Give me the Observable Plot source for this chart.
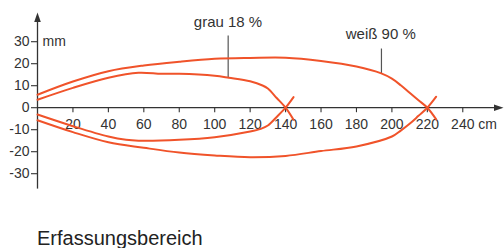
<!DOCTYPE html>
<html><head><meta charset="utf-8">
<script src="https://cdn.jsdelivr.net/npm/d3@7"></script>
<script src="https://cdn.jsdelivr.net/npm/@observablehq/plot@0.6"></script>
<style>
body{margin:0;background:#fff;}
#chart svg{display:block;}
#cap{font-family:"Liberation Sans",Arial,Helvetica,sans-serif;font-size:20px;line-height:20px;color:#222;margin-top:13px;padding-left:37px;}
</style></head><body>
<div id="chart"></div>
<div id="cap">Erfassungsbereich</div>
<script>
// ---- data (cm along the axis, mm off-axis) ----
const weissUpperX = [0,20,40,60,80,100,120,140,160,180,194,200,205,210,215,220,225];
const weissUpperY = [5.9,11.9,16.6,19.2,20.9,22.2,22.6,22.7,21.2,18.7,15.6,13.2,10.2,6.8,3.4,0,-5.3];
const weissLowerX = [0,20,40,60,80,100,120,140,160,180,200,205,210,215,220,225];
const weissLowerY = [-5.7,-11.1,-15.7,-18.2,-20.4,-21.7,-22.5,-21.9,-19.7,-17.6,-13.1,-10.4,-7.3,-3.7,0,5];
const grauUpperX = [0,20,40,57,70,80,100,108,120,127,130,135,140,144.5];
const grauUpperY = [3.6,9.0,13.6,15.9,15.4,15.4,14.5,13.6,12.0,10.1,8.7,4.4,0,-5.5];
const grauLowerX = [0,20,40,50,57,80,100,120,126,130,135,140,144.5];
const grauLowerY = [-3.1,-8.4,-13.1,-14.6,-15.0,-14.6,-13.4,-10.8,-9.6,-8.1,-4.2,0,4.8];

const xTicks = [20,40,60,80,100,120,140,160,180,200,220,240];
const yTicks = [-30,-20,-10,0,10,20,30];
const xUnit = "cm", yUnit = "mm";
const labels = [
  {text: "grau 18 %", x: 107.5, y: 38.7, lx: 107.6, ly1: 32.8, ly2: 13.6},
  {text: "weiß 90 %", x: 193.7, y: 33.4, lx: 194.1, ly1: 26.9, ly2: 15.6}
];
const caption = "Erfassungsbereich";

// ---- build table ----
function series(name, xs, ys){ return xs.map((x,i)=>({s:name, x, y: ys[i]})); }
const curves = [
  ...series("weissUpper", weissUpperX, weissUpperY),
  ...series("weissLower", weissLowerX, weissLowerY),
  ...series("grauUpper", grauUpperX, grauUpperY),
  ...series("grauLower", grauLowerX, grauLowerY)
];

// ---- geometry ----
const W = 504, H = 215;
const ox = 37, oy = 107.2, kx = 1.772, ky = 2.2;
const xMax = (503 - ox) / kx, yMax = (oy - 12) / ky, yMin = -37;

const arrowHead = { draw(ctx){ ctx.moveTo(0,0); ctx.lineTo(3.3,9.5); ctx.lineTo(-3.3,9.5); ctx.closePath(); } };

const font = "Liberation Sans, Arial, Helvetica, sans-serif";
const ink = "#333";
const red = "#f0532a";

const plot = Plot.plot({
  width: W, height: H,
  marginTop: 0, marginRight: 0, marginBottom: 0, marginLeft: 0,
  style: {fontFamily: font, background: "#fff"},
  x: {domain: [-ox/kx, (W-ox)/kx], range: [0, W], axis: null},
  y: {domain: [(oy-H)/ky, oy/ky], range: [H, 0], axis: null},
  marks: [
    // axes
    Plot.ruleY([0], {x1: 0, x2: xMax - 2, stroke: ink, strokeWidth: 1.3}),
    Plot.ruleX([0], {y1: yMin, y2: yMax - 2, stroke: ink, strokeWidth: 1.3}),
    Plot.dot([0], {x: xMax, y: 0, symbol: arrowHead, rotate: 90, fill: ink, stroke: null}),
    Plot.dot([0], {x: 0, y: yMax, symbol: arrowHead, rotate: 0, fill: ink, stroke: null}),
    Plot.ruleX(xTicks, {x: d=>d, y1: 0, y2: -5/ky, stroke: ink, strokeWidth: 1.1}),
    Plot.ruleY(yTicks, {y: d=>d, x1: -6/kx, x2: 0, stroke: ink, strokeWidth: 1.1}),
    Plot.text(xTicks, {x: d=>d, y: 0, text: d=>String(d), dy: 17, fontSize: 14, fill: ink}),
    Plot.text([xUnit], {x: xTicks[xTicks.length-1], y: 0, text: d=>d, dx: 15.5, dy: 17, textAnchor: "start", fontSize: 14, fill: ink}),
    Plot.text(yTicks, {x: 0, y: d=>d, text: d=>String(d), dx: -8, textAnchor: "end", fontSize: 14, fill: ink}),
    Plot.text([yUnit], {x: 0, y: yTicks[yTicks.length-1], text: d=>d, dx: 5, textAnchor: "start", fontSize: 14, fill: ink}),
    // leader lines + labels
    Plot.link(labels, {x1: "lx", x2: "lx", y1: "ly1", y2: "ly2", stroke: "#555", strokeWidth: 1.2}),
    Plot.text(labels, {x: "x", y: "y", text: "text", fontSize: 15, fill: ink}),
    // curves
    Plot.line(curves, {x: "x", y: "y", z: "s", stroke: red, strokeWidth: 2, curve: "catmull-rom"})
  ]
});
document.getElementById("chart").append(plot);
document.getElementById("cap").textContent = caption;
</script>
</body></html>
